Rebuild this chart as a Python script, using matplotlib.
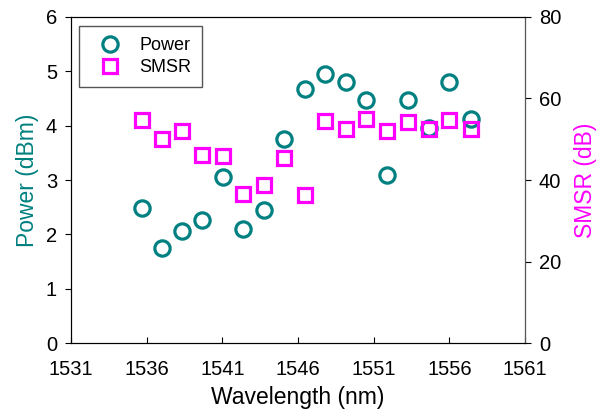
import matplotlib.pyplot as plt
import numpy as np

plt.rcParams['font.family'] = ['Liberation Sans', 'DejaVu Sans']

# wavelength (nm)
wl = [1535.67, 1537.01, 1538.35, 1539.68, 1541.04, 1542.39, 1543.75, 1545.08,
      1546.43, 1547.78, 1549.15, 1550.49, 1551.90, 1553.25, 1554.66, 1556.00, 1557.41]
# output power (dBm)
power = [2.48, 1.75, 2.07, 2.26, 3.06, 2.09, 2.45, 3.75,
         4.68, 4.96, 4.80, 4.48, 3.10, 4.47, 3.95, 4.80, 4.12]
# side mode suppression ratio (dB)
smsr = [54.7, 50.1, 52.0, 46.2, 45.9, 36.6, 38.7, 45.5,
        36.2, 54.5, 52.6, 54.9, 52.0, 54.2, 52.5, 54.7, 52.4]

xticks = [1531, 1536, 1541, 1546, 1551, 1556, 1561]

teal = '#008080'
mag = '#ff00ff'

fig, ax = plt.subplots(figsize=(6.06, 4.11), dpi=100)
fig.subplots_adjust(left=71/606, right=525/606, bottom=1-343/411, top=1-17/411)
ax2 = ax.twinx()

p1, = ax.plot(wl, power, 'o', ms=11, mfc='none', mec=teal, mew=2.3, label='Power')
p2, = ax2.plot(wl, smsr, 's', ms=9.5, mfc='none', mec=mag, mew=2.3, label='SMSR')

ax.set_xlim(1531, 1561)
ax.set_ylim(0, 6)
ax2.set_ylim(0, 80)
ax.set_xticks(xticks)
ax.set_yticks(range(0, 7))
ax2.set_yticks(range(0, 81, 20))

ax.tick_params(axis='x', direction='in', length=4, labelsize=14.5, pad=12, top=False)
ax.tick_params(axis='y', direction='out', length=4, labelsize=14.5, pad=6)
ax2.tick_params(axis='y', direction='out', length=4, labelsize=14.5, pad=6, colors='black')
ax2.spines['right'].set_color('#555555')

ax.set_xlabel('Wavelength (nm)', fontsize=16.5, labelpad=5)
ax.set_ylabel('Power (dBm)', fontsize=16.5, color=teal, labelpad=5)
ax2.set_ylabel('SMSR (dB)', fontsize=16.5, color=mag, labelpad=9)

leg = ax.legend(handles=[p1, p2], loc='upper left', bbox_to_anchor=(0.0176, 0.972),
                fontsize=13, fancybox=False, edgecolor='#555555', framealpha=1,
                handletextpad=0.5, borderpad=0.6, labelspacing=0.3,
                borderaxespad=0, handlelength=2.24)
leg.get_frame().set_linewidth(1.0)

fig.savefig('out.png', dpi=100)
